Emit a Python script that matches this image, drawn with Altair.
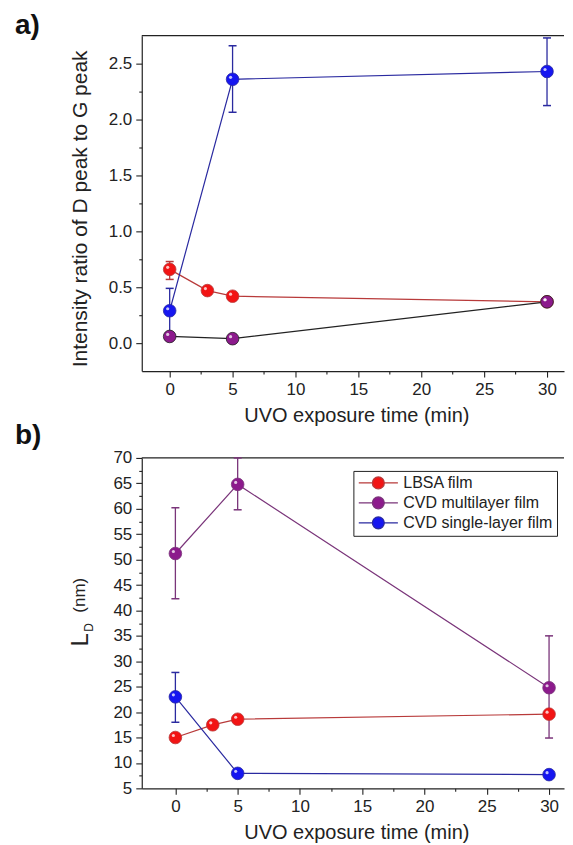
import altair as alt
import pandas as pd

# ---------------- data ----------------
series = ["LBSA film", "CVD multilayer film", "CVD single-layer film"]

time_lbsa = [0, 3, 5, 30]
time_cvd = [0, 5, 30]

# panel a: intensity ratio D/G
ratio_lbsa = [0.66, 0.47, 0.42, 0.37]
ratio_lbsa_lo = [0.57, None, None, None]
ratio_lbsa_hi = [0.73, None, None, None]
ratio_multi = [0.06, 0.04, 0.37]
ratio_multi_lo = [None, None, None]
ratio_multi_hi = [None, None, None]
ratio_single = [0.29, 2.36, 2.43]
ratio_single_lo = [0.09, 2.065, 2.125]
ratio_single_hi = [0.49, 2.66, 2.73]

# panel b: L_D (nm)
ld_lbsa = [15.0, 17.5, 18.6, 19.6]
ld_lbsa_lo = [None, None, None, None]
ld_lbsa_hi = [None, None, None, None]
ld_multi = [51.2, 64.8, 24.8]
ld_multi_lo = [42.3, 59.8, 14.9]
ld_multi_hi = [60.2, 70.0, 35.0]
ld_single = [23.0, 7.95, 7.7]
ld_single_lo = [18.0, None, None]
ld_single_hi = [27.8, None, None]

x_ticks = [0, 2.5, 5, 7.5, 10, 12.5, 15, 17.5, 20, 22.5, 25, 27.5, 30]
y_ticks_a = [0, 0.25, 0.5, 0.75, 1.0, 1.25, 1.5, 1.75, 2.0, 2.25, 2.5]
y_ticks_b = [5, 7.5, 10, 12.5, 15, 17.5, 20, 22.5, 25, 27.5, 30, 32.5, 35, 37.5,
             40, 42.5, 45, 47.5, 50, 52.5, 55, 57.5, 60, 62.5, 65, 67.5, 70]

fill_colors = ["#f21414", "#8c1a8c", "#1616f0"]
stroke_a = ["#b83a3a", "#222222", "#2a2aa0"]
stroke_b = ["#b83a3a", "#7a357a", "#2a2aa0"]

FONT = "Liberation Sans"
W = 423


def build(groups):
    rows = []
    for name, times, vals, lo, hi in groups:
        for t, v, l, h in zip(times, vals, lo, hi):
            rows.append({"series": name, "time": t, "value": v, "lo": l, "hi": h})
    return pd.DataFrame(rows)


df_a = build([
    (series[0], time_lbsa, ratio_lbsa, ratio_lbsa_lo, ratio_lbsa_hi),
    (series[1], time_cvd, ratio_multi, ratio_multi_lo, ratio_multi_hi),
    (series[2], time_cvd, ratio_single, ratio_single_lo, ratio_single_hi),
])
df_b = build([
    (series[0], time_lbsa, ld_lbsa, ld_lbsa_lo, ld_lbsa_hi),
    (series[1], time_cvd, ld_multi, ld_multi_lo, ld_multi_hi),
    (series[2], time_cvd, ld_single, ld_single_lo, ld_single_hi),
])

one = pd.DataFrame({"k": [0]})

legend_b = alt.Legend(
    orient="none", legendX=212, legendY=13, title=None,
    symbolType="M-2.8,0H-0.85M0.85,0H2.8M0.85,0A0.85,0.85,0,1,1,-0.85,0A0.85,0.85,0,1,1,0.85,0Z",
    symbolSize=196, symbolStrokeWidth=1.3, symbolOpacity=1, symbolOffset=13,
    labelFont=FONT, labelFontSize=16, labelColor="#222", labelOffset=17,
    strokeColor="#222", fillColor="white", padding=4, rowPadding=2,
)


def panel(df, xdom, ydom, yticks, major_test, ylabel, stroke_range, height,
          label, label_y, ytitle, show_legend):
    x_axis = alt.Axis(
        values=x_ticks, tickCount=100, labelOverlap=False,
        labelExpr="datum.value % 5 === 0 ? format(datum.value, 'd') : ''",
        title="UVO exposure time (min)", titleX=215, titleY=34,
        titleBaseline="top", titleAnchor="middle", titleFontSize=20,
        tickSize={"condition": {"test": "datum.value % 5 === 0", "value": 6}, "value": 3},
    )
    y_axis = alt.Axis(
        values=yticks, tickCount=100, labelOverlap=False,
        labelExpr=major_test + " ? " + ylabel + " : ''",
        title=ytitle if ytitle else None, titleFontSize=21,
        titleX=-51, titleY=height / 2 + 5, titleBaseline="bottom",
        tickSize={"condition": {"test": major_test, "value": 6}, "value": 3},
    )
    x = alt.X("time:Q", scale=alt.Scale(domain=xdom, nice=False, zero=False), axis=x_axis)
    y = alt.Y("value:Q", scale=alt.Scale(domain=ydom, nice=False, zero=False), axis=y_axis)
    leg = legend_b if show_legend else None
    stroke = alt.Stroke("series:N", scale=alt.Scale(domain=series, range=stroke_range), legend=leg)
    fill = alt.Fill("series:N", scale=alt.Scale(domain=series, range=fill_colors), legend=leg)

    base = alt.Chart(df)
    err = base.transform_filter("isValid(datum.lo)")

    border = alt.Chart(one).mark_rule(color="#222", strokeWidth=1.2).encode(
        x=alt.value(0), x2=alt.value(W), y=alt.value(0))
    bars = err.mark_rule(strokeWidth=1.3).encode(
        x=x, y=alt.Y("lo:Q"), y2="hi:Q", stroke=stroke)
    cap_lo = err.mark_point(shape="stroke", size=64, strokeWidth=1.5, opacity=1).encode(
        x=x, y=alt.Y("lo:Q"), stroke=stroke)
    cap_hi = err.mark_point(shape="stroke", size=64, strokeWidth=1.5, opacity=1).encode(
        x=x, y=alt.Y("hi:Q"), stroke=stroke)
    lines = base.mark_line(strokeWidth=1.2).encode(x=x, y=y, stroke=stroke)
    pts = base.mark_point(filled=True, size=160, opacity=1, strokeWidth=0.8).encode(
        x=x, y=y, fill=fill, stroke=stroke)
    shine = base.mark_point(filled=True, size=10, color="white", opacity=0.75,
                            xOffset=-2, yOffset=-2).encode(x=x, y=y)
    tag = alt.Chart(one).mark_text(font=FONT, fontSize=28, fontWeight="bold",
                                   align="left", baseline="alphabetic", color="#111").encode(
        x=alt.value(-127), y=alt.value(label_y), text=alt.value(label))
    layers = [border, bars, cap_lo, cap_hi, lines, pts, shine, tag]
    if not ytitle:
        lt = alt.Chart(one).mark_text(font=FONT, fontSize=24, angle=270, align="left",
                                      baseline="alphabetic", color="#222").encode(
            x=alt.value(-54), y=alt.value(189), text=alt.value("L"))
        sub = alt.Chart(one).mark_text(font=FONT, fontSize=12, angle=270, align="left",
                                       baseline="alphabetic", color="#222").encode(
            x=alt.value(-49), y=alt.value(174), text=alt.value("D"))
        nm = alt.Chart(one).mark_text(font=FONT, fontSize=17, angle=270, align="left",
                                      baseline="alphabetic", color="#222").encode(
            x=alt.value(-57), y=alt.value(155), text=alt.value("(nm)"))
        layers += [lt, sub, nm]
    return alt.layer(*layers).properties(width=W, height=height)


pa = panel(df_a, [-2.22, 31.35], [-0.25, 2.75], y_ticks_a,
           "abs(datum.value*2 - round(datum.value*2)) < 0.000001",
           "format(datum.value, '.1f')",
           stroke_a, 336, "a)", -2, "Intensity ratio of D peak to G peak", False)
pb = panel(df_b, [-2.70, 31.2], [5, 70], y_ticks_b,
           "datum.value % 5 === 0", "format(datum.value, 'd')",
           stroke_b, 331, "b)", -14, None, True)

chart = alt.vconcat(pa, pb, spacing=87, bounds="flush").resolve_scale(
    x="independent", y="independent", stroke="independent", fill="independent"
).properties(
    padding={"left": 7, "top": 3, "right": 0, "bottom": 0}
).configure_view(stroke=None).configure_axis(
    labelFont=FONT, labelFontSize=17, labelColor="#222", labelPadding=4,
    titleFont=FONT, titleFontSize=18.5, titleFontWeight="normal", titleColor="#222",
    domainColor="#222", domainWidth=1.2, tickColor="#222", tickWidth=1.1, grid=False,
)

chart.save("out.html", embed_options={"renderer": "svg", "actions": False})
